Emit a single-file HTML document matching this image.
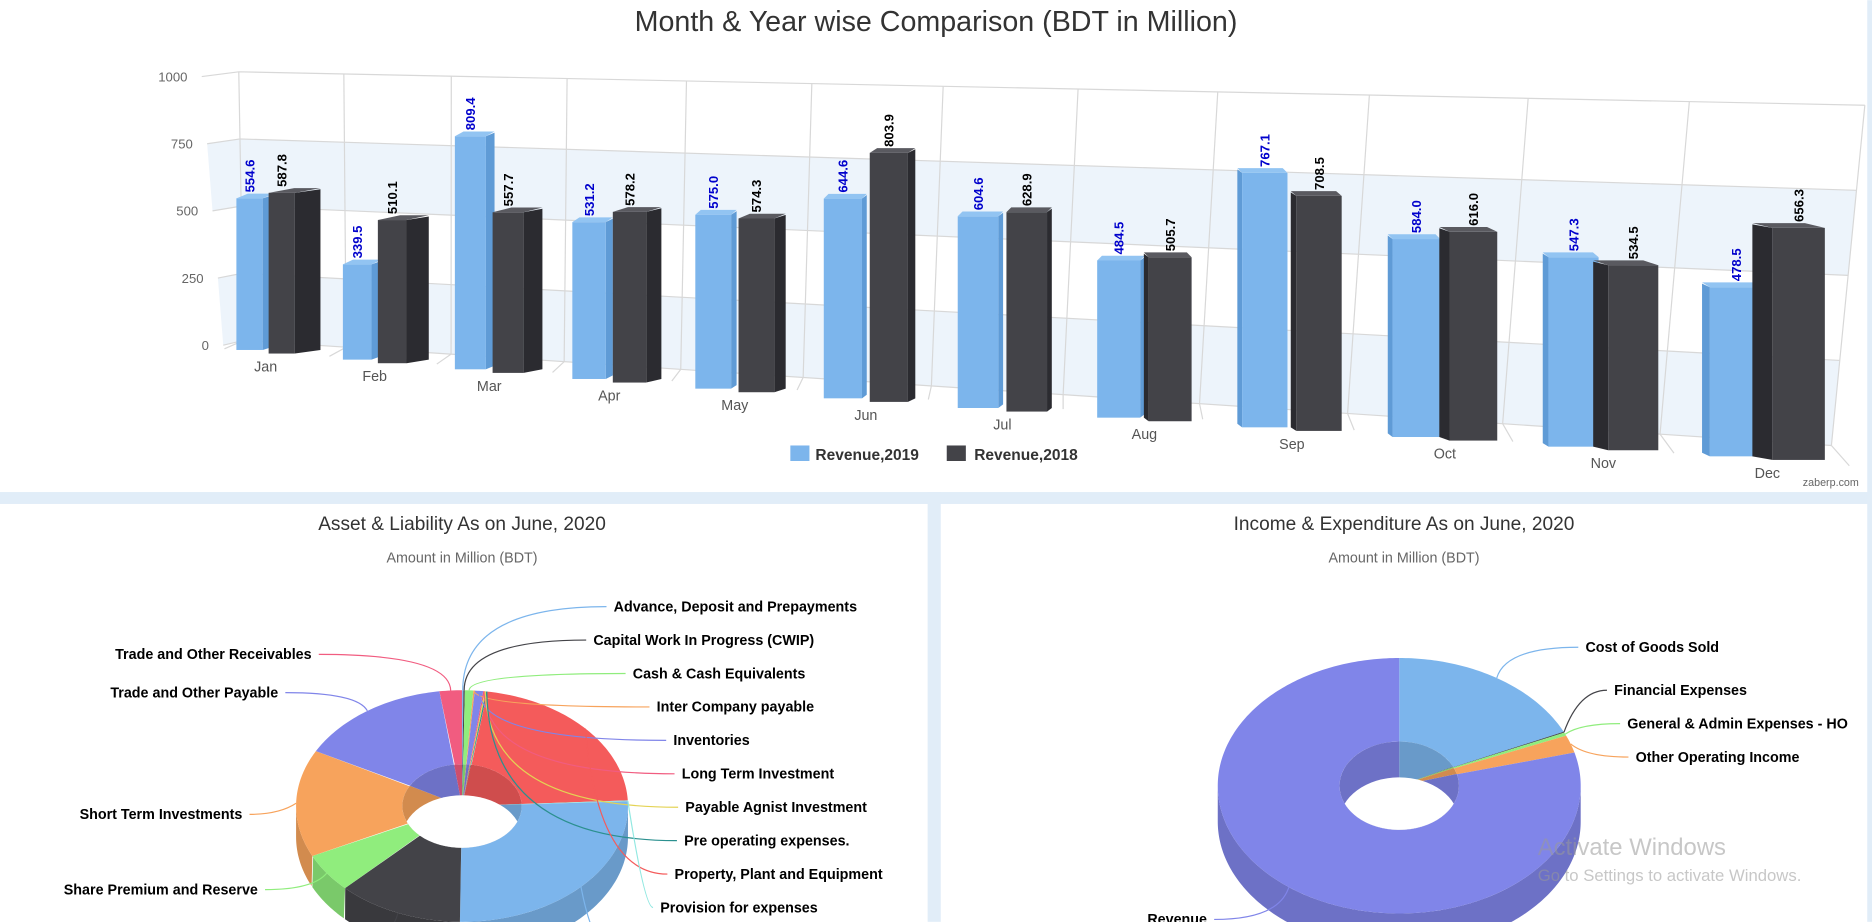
<!DOCTYPE html>
<html><head><meta charset="utf-8">
<style>
html,body{margin:0;padding:0;background:#fff;width:1872px;height:922px;overflow:hidden}
svg{display:block}
text{font-family:"Liberation Sans",sans-serif}
</style></head>
<body>
<svg id="root" width="1872" height="922" viewBox="0 0 1568 772" xmlns="http://www.w3.org/2000/svg">
<rect x="0" y="0" width="1568" height="772" fill="#fff"/>
<rect x="0" y="412" width="1568" height="10" fill="#e1edf8"/>
<rect x="777" y="412" width="11" height="360" fill="#e1edf8"/>
<rect x="1564" y="0" width="4" height="772" fill="#e1edf8"/>
<text x="784" y="26" text-anchor="middle" font-size="24" fill="#333">Month &amp; Year wise Comparison (BDT in Million)</text>
<g id="bar3d"></g>
<g>
 <g><rect x="662" y="373" width="16" height="13" fill="#7cb5ec"/><text x="683" y="385" font-size="13" font-weight="bold" fill="#333">Revenue,2019</text></g>
 <g><rect x="793" y="373" width="16" height="13" fill="#434348"/><text x="816" y="385" font-size="13" font-weight="bold" fill="#333">Revenue,2018</text></g>
</g>
<text x="1557" y="407" text-anchor="end" font-size="9" fill="#666">zaberp.com</text>

<text x="387" y="444" text-anchor="middle" font-size="16" fill="#333">Asset &amp; Liability As on June, 2020</text>
<text x="387" y="471" text-anchor="middle" font-size="12" fill="#666">Amount in Million (BDT)</text>
<g id="pie1"></g>

<text x="1176" y="444" text-anchor="middle" font-size="16" fill="#333">Income &amp; Expenditure As on June, 2020</text>
<text x="1176" y="471" text-anchor="middle" font-size="12" fill="#666">Amount in Million (BDT)</text>
<g id="pie2"></g>

<text x="1288" y="716" font-size="20" fill="#999" fill-opacity="0.55">Activate Windows</text>
<text x="1288" y="738" font-size="14" fill="#999" fill-opacity="0.55">Go to Settings to activate Windows.</text>
</svg>
<script>
const months = ["Jan","Feb","Mar","Apr","May","Jun","Jul","Aug","Sep","Oct","Nov","Dec"];
const rev2019 = [554.6,339.5,809.4,531.2,575.0,644.6,604.6,484.5,767.1,584.0,547.3,478.5];
const rev2018 = [587.8,510.1,557.7,578.2,574.3,803.9,628.9,505.7,708.5,616.0,534.5,656.3];
const yTicks = [0,250,500,750,1000];

const assetNames = ["Advance, Deposit and Prepayments","Capital Work In Progress (CWIP)","Cash & Cash Equivalents","Inter Company payable","Inventories","Long Term Investment","Payable Agnist Investment","Pre operating expenses.","Property, Plant and Equipment","Provision for expenses","Retained Earnings","Share Capital","Share Premium and Reserve","Short Term Investments","Trade and Other Payable","Trade and Other Receivables"];
const assetValues = [0.5,0.5,3,0.5,3,0.5,0.5,0.5,80,0.5,95,45,20,55,55,8];

const incomeNames = ["Cost of Goods Sold","Financial Expenses","General & Admin Expenses - HO","Other Operating Income","Revenue"];
const incomeValues = [65,0.4,1.5,8,285];

const NS="http://www.w3.org/2000/svg";
function mk(tag,attrs,parent){const e=document.createElementNS(NS,tag);for(const k in attrs)e.setAttribute(k,attrs[k]);parent.appendChild(e);return e;}

/* ---------- 3D bar chart ---------- */
const bar=document.getElementById('bar3d');
const yMax=1000;
const wallL={x0:200,yTop:60,x1:204,yBot:285};
const wallR={x0:1562,yTop:88,x1:1534,yBot:373};
function wallY(v,t){const yl=wallL.yBot+(wallL.yTop-wallL.yBot)*v/yMax;const yr=wallR.yBot+(wallR.yTop-wallR.yBot)*v/yMax;return yl+(yr-yl)*t;}
function wallX(v,t){const xl=wallL.x1+(wallL.x0-wallL.x1)*v/yMax;const xr=wallR.x1+(wallR.x0-wallR.x1)*v/yMax;return xl+(xr-xl)*t;}
// bands
for(let b=0;b<yTicks.length-1;b+=2){
 const a=yTicks[b],c=yTicks[b+1];
 const p=[[wallX(a,0),wallY(a,0)],[wallX(a,1),wallY(a,1)],[wallX(c,1),wallY(c,1)],[wallX(c,0),wallY(c,0)]];
 const band=mk('polygon',{points:p.map(q=>q.join(',')).join(' '),fill:'#edf4fb'},bar);
 
 
 const sideLeft=(v)=>169+18*(1-v/yMax);
 const sp=[[sideLeft(a),wallY(a,0)+4],[wallX(a,0),wallY(a,0)],[wallX(c,0),wallY(c,0)],[sideLeft(c),wallY(c,0)+4]];
 const sb=mk('polygon',{points:sp.map(q=>q.join(',')).join(' '),fill:'#edf4fb'},bar);
 
 
}
// horizontal gridlines + y labels
yTicks.forEach(v=>{
 const gl=mk('polyline',{points:`${169+18*(1-v/yMax)},${wallY(v,0)+4} ${wallX(v,0)},${wallY(v,0)} ${wallX(v,1)},${wallY(v,1)}`,fill:'none',stroke:'#d8d8d8','stroke-width':1},bar);
 
 
 const t=mk('text',{x:163+18*(1-v/yMax)-6,y:wallY(v,0)+8,'text-anchor':'end','font-size':11,fill:'#666'},bar);
 t.textContent=String(v);
 
 
});
// vertical grid lines
const vTop=[200,288,378,475,575,680,790,903,1020,1147,1280,1415,1562];
vTop.forEach(xt=>{
 const t=(xt-200)/1362;
 const yt=wallY(1000,t);
 const xb=xt+4-32*t, yb=wallY(0,t);
 const l=mk('line',{x1:xt,y1:yt,x2:xb,y2:yb,stroke:'#d8d8d8','stroke-width':1},bar);
 
 
 const fl=mk('line',{x1:xb,y1:yb,x2:xb-16+31*t,y2:yb+7+10*t,stroke:'#d8d8d8','stroke-width':1},bar);
 
 
});
// bars
function bx(i){return 198+86.9*i+2.3*i*i;}
function fw(i){return 22+2.0*i;}
function off(i){return 27+2.3*i;}
function base(i){return 293+8.1*i;}
function sc(i){return 0.229+0.0061*i;}
const colors=[{front:'#7cb5ec',side:'#5f9bd6',top:'#92c4f2',label:'#0000cc'},{front:'#434348',side:'#2b2b30',top:'#5a5a60',label:'#000'}];
const series=[rev2019,rev2018];
for(let i=0;i<months.length;i++){
 for(let k=0;k<2;k++){
  const v=series[k][i];
  const x=bx(i)+k*off(i), w=fw(i), y0=base(i)+k*3, top=y0-v*sc(i);
  const c=colors[k];
  let sw=(k===0?0.013:0.03)*Math.abs(950-(x+w/2)); sw=Math.max(sw,4);
  const right=(x+w/2)<950;
  const g=mk('g',{},bar);
  
  
  let side,topF;
  if(right){
   side=[[x+w,top],[x+w+sw,top-3],[x+w+sw,y0-3],[x+w,y0]];
   topF=[[x,top],[x+w,top],[x+w+sw,top-4],[x+sw,top-4]];
  }else{
   side=[[x,top],[x-sw,top-3],[x-sw,y0-3],[x,y0]];
   topF=[[x,top],[x+w,top],[x+w-sw,top-4],[x-sw,top-4]];
  }
  mk('polygon',{points:side.map(q=>q.join(',')).join(' '),fill:c.side},g);
  mk('rect',{x:x,y:top,width:w,height:y0-top,fill:c.front},g);
  mk('polygon',{points:topF.map(q=>q.join(',')).join(' '),fill:c.top},g);
  const lt=mk('text',{x:0,y:0,transform:`translate(${x+w/2+4},${top-5}) rotate(-90)`,'font-size':11,'font-weight':'bold',fill:c.label},bar);
  lt.textContent=v.toFixed(1);
  
  
 }
 const ml=mk('text',{x:bx(i)+(off(i)+fw(i))/2,y:base(i)+18,'text-anchor':'middle','font-size':12,fill:'#555'},bar);
 ml.textContent=months[i];
 
 
}

/* ---------- 3D donut pies ---------- */
const baseColors=['#7cb5ec','#434348','#90ed7d','#f7a35c','#8085e9','#f15c80','#e4d354','#2b908f','#f45b5b','#91e8e1'];
function darker(hex,f){const n=parseInt(hex.slice(1),16);const r=Math.round(((n>>16)&255)*f),g=Math.round(((n>>8)&255)*f),b=Math.round((n&255)*f);return `rgb(${r},${g},${b})`;}
function drawPie(gid,names,values,geo,labels,clipId){
 const G=document.getElementById(gid);
 const total=values.reduce((a,b)=>a+b,0);
 const P=(a,rx,ry,dy)=>[geo.cx+rx*Math.sin(a*Math.PI/180),geo.cy+(dy||0)-ry*Math.cos(a*Math.PI/180)];
 let acc=0;const sl=values.map((v,i)=>{const a0=acc/total*360;acc+=v;return {a0,a1:acc/total*360,color:baseColors[i%baseColors.length],name:names[i]};});
 // outer side walls (front half)
 sl.forEach(s=>{
  const lo=Math.max(s.a0,90),hi=Math.min(s.a1,270);
  if(hi<=lo)return;
  const pts=[];
  for(let a=lo;a<=hi+0.001;a+=Math.min(1,(hi-lo)))pts.push(P(a,geo.rx,geo.ry,0));
  for(let a=hi;a>=lo-0.001;a-=Math.min(1,(hi-lo)))pts.push(P(a,geo.rx,geo.ry,geo.depth));
  const p=mk('polygon',{points:pts.map(q=>q.join(',')).join(' '),fill:darker(s.color,0.85)},G);
  
  
 });
 // top faces
 sl.forEach(s=>{
  const pts=[];const step=Math.max(0.1,Math.min(1,(s.a1-s.a0)/4));
  for(let a=s.a0;a<=s.a1+0.0001;a+=step)pts.push(P(a,geo.rx,geo.ry));
  pts.push(P(s.a1,geo.rx,geo.ry));
  for(let a=s.a1;a>=s.a0-0.0001;a-=step)pts.push(P(a,geo.irx,geo.iry));
  const p=mk('polygon',{points:pts.map(q=>q.join(',')).join(' '),fill:s.color},G);
  
  
 });
 // inner hole
 const cp=mk('clipPath',{id:clipId},G);
 mk('ellipse',{cx:geo.cx,cy:geo.cy,rx:geo.irx,ry:geo.iry},cp);
 const hole=mk('g',{'clip-path':`url(#${clipId})`},G);
 
 
 sl.forEach(s=>{
  const pts=[[geo.cx,geo.cy]];
  for(let a=s.a0;a<=s.a1+0.0001;a+=Math.max(0.1,Math.min(1,(s.a1-s.a0)/4)))pts.push(P(a,geo.irx+4,geo.iry+4));
  pts.push(P(s.a1,geo.irx+4,geo.iry+4));
  mk('polygon',{points:pts.map(q=>q.join(',')).join(' '),fill:darker(s.color,0.85)},hole);
 });
 mk('ellipse',{cx:geo.cx,cy:geo.cy+geo.depth,rx:geo.irx,ry:geo.iry,fill:'#fff'},hole);
 // labels + connectors
 sl.forEach((s,i)=>{
  const L=labels[i]; if(!L)return;
  const m=(s.a0+s.a1)/2;
  const p0=P(m,geo.rx,geo.ry);
  const p1=P(m,geo.rx+14,geo.ry+14);
  const endX=L.anchor==='end'?L.x+6:L.x-6;
  const path=mk('path',{d:`M${p0[0]},${p0[1]} Q${p1[0]},${L.y-4} ${endX},${L.y-4}`,fill:'none',stroke:s.color,'stroke-width':1},G);
  
  
  const t=mk('text',{x:L.x,y:L.y,'text-anchor':L.anchor,'font-size':12,'font-weight':'bold',fill:'#000'},G);
  t.textContent=s.name;
  
  
 });
}
drawPie('pie1',assetNames,assetValues,{cx:387,cy:675,rx:139,ry:97,irx:50,iry:35,depth:26},[
 {x:514,y:512,anchor:'start'},{x:497,y:540,anchor:'start'},{x:530,y:568,anchor:'start'},{x:550,y:596,anchor:'start'},
 {x:564,y:624,anchor:'start'},{x:571,y:652,anchor:'start'},{x:574,y:680,anchor:'start'},{x:573,y:708,anchor:'start'},
 {x:565,y:736,anchor:'start'},{x:553,y:764,anchor:'start'},{x:520,y:800,anchor:'start'},{x:240,y:800,anchor:'end'},
 {x:216,y:749,anchor:'end'},{x:203,y:686,anchor:'end'},{x:233,y:584,anchor:'end'},{x:261,y:552,anchor:'end'}
],'clip1');
drawPie('pie2',incomeNames,incomeValues,{cx:1172,cy:658,rx:152,ry:107,irx:50,iry:37,depth:30},[
 {x:1328,y:546,anchor:'start'},{x:1352,y:582,anchor:'start'},{x:1363,y:610,anchor:'start'},{x:1370,y:638,anchor:'start'},
 {x:1011,y:774,anchor:'end'}
],'clip2');
</script>
</body></html>
